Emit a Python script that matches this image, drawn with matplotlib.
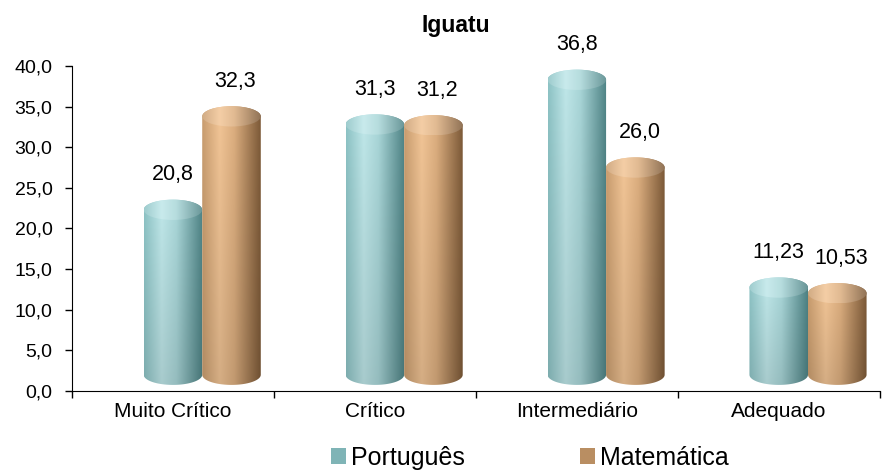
import matplotlib
matplotlib.use("Agg")
import matplotlib.pyplot as plt
import numpy as np
from matplotlib.patches import Patch, PathPatch, Ellipse
from matplotlib.path import Path
from matplotlib.colors import LinearSegmentedColormap
from matplotlib.ticker import FuncFormatter

plt.rcParams["font.family"] = ["Liberation Sans", "DejaVu Sans"]

categorias = ["Muito Crítico", "Crítico", "Intermediário", "Adequado"]
portugues = [20.8, 31.3, 36.8, 11.23]
matematica = [32.3, 31.2, 26.0, 10.53]
rotulos_port = ["20,8", "31,3", "36,8", "11,23"]
rotulos_mat = ["32,3", "31,2", "26,0", "10,53"]

# shading stops: left edge, highlight, mid, right edge (dark)
cores_port = ["#8dc3c5", "#bfe7e9", "#a9d6d8", "#4e8385"]
cores_mat = ["#c99d6f", "#f2c596", "#dcae7f", "#7d5a38"]

LARGURA = 0.29
BASE = 2.0       # centre of bottom ellipse (3D look of the original)
ELEV = 1.5       # cap centre sits a bit above the value
SEMI = 1.25      # half height of the ellipses


def cilindro(ax, xc, valor, cores, z):
    x0, x1 = xc - LARGURA / 2, xc + LARGURA / 2
    topo = valor + ELEV
    t = np.linspace(np.pi, 2 * np.pi, 60)
    baixo = np.column_stack([xc + LARGURA / 2 * np.cos(t), BASE + SEMI * np.sin(t)])
    t2 = np.linspace(0, np.pi, 60)
    cima = np.column_stack([xc + LARGURA / 2 * np.cos(t2), topo + SEMI * np.sin(t2)])
    verts = np.vstack([[x0, topo], baixo, [x1, topo], cima, [x0, topo]])
    patch = PathPatch(Path(verts), facecolor="none", edgecolor="none", zorder=z)
    ax.add_patch(patch)

    cmap = LinearSegmentedColormap.from_list("c", list(zip([0, 0.3, 0.55, 1], cores)))
    gx = np.linspace(0, 1, 200)
    img = cmap(gx)[None, :, :3].repeat(100, axis=0)
    # darken a little towards the bottom
    fade = np.linspace(0.88, 1.0, 100)[:, None, None]
    img = img * fade
    im = ax.imshow(img, extent=[x0, x1, BASE - SEMI, topo + SEMI], origin="lower",
                   aspect="auto", interpolation="bilinear", zorder=z)
    im.set_clip_path(patch)

    # top cap, a bit lighter
    cap = Ellipse((xc, topo), LARGURA, 2 * SEMI, facecolor="none", edgecolor="none", zorder=z + 0.1)
    ax.add_patch(cap)
    img2 = cmap(gx)[None, :, :3].repeat(50, axis=0)
    img2 = img2 + (1 - img2) * 0.15
    im2 = ax.imshow(img2, extent=[x0, x1, topo - SEMI, topo + SEMI], origin="lower",
                    aspect="auto", interpolation="bilinear", zorder=z + 0.1)
    im2.set_clip_path(cap)


fig = plt.figure(figsize=(8.93, 4.72), dpi=100)
ax = fig.add_axes([0.0806, 0.1716, 0.9045, 0.6886])

x = np.arange(len(categorias))
for i in x:
    cilindro(ax, i, portugues[i], cores_port, 2)
    cilindro(ax, i + LARGURA, matematica[i], cores_mat, 3)
    ax.text(i, portugues[i] + 5.8, rotulos_port[i], ha="center", va="center",
            fontsize=15.5, clip_on=False)
    ax.text(i + LARGURA + 0.02, matematica[i] + 5.8, rotulos_mat[i], ha="center",
            va="center", fontsize=15.5, clip_on=False)

ax.set_xlim(-0.5, len(categorias) - 0.5)
ax.set_ylim(0, 40)
ax.set_yticks(np.arange(0, 41, 5))
ax.yaxis.set_major_formatter(FuncFormatter(lambda v, p: f"{v:.1f}".replace(".", ",")))
ax.set_xticks(np.arange(-0.5, len(categorias), 1))
ax.set_xticklabels([])
ax.set_xticks(x, minor=True)
ax.set_xticklabels(categorias, minor=True, fontsize=15)
ax.tick_params(axis="x", which="minor", length=0, pad=8)
ax.tick_params(axis="both", which="major", length=5, width=1, labelsize=14)
ax.tick_params(axis="y", pad=9)
ax.spines["top"].set_visible(False)
ax.spines["right"].set_visible(False)

fig.text(0.51, 0.945, "Iguatu", ha="center", va="center", fontsize=16.5, fontweight="bold")

handles = [Patch(facecolor="#7fb4b6", label="Português"),
           Patch(facecolor="#b98e62", label="Matemática")]
fig.legend(handles=handles, loc="center", bbox_to_anchor=(0.593, 0.03), ncol=2,
           frameon=False, fontsize=18, handlelength=0.6, handleheight=0.6,
           handletextpad=0.2, columnspacing=4.6)

fig.savefig("out.png", dpi=100)
